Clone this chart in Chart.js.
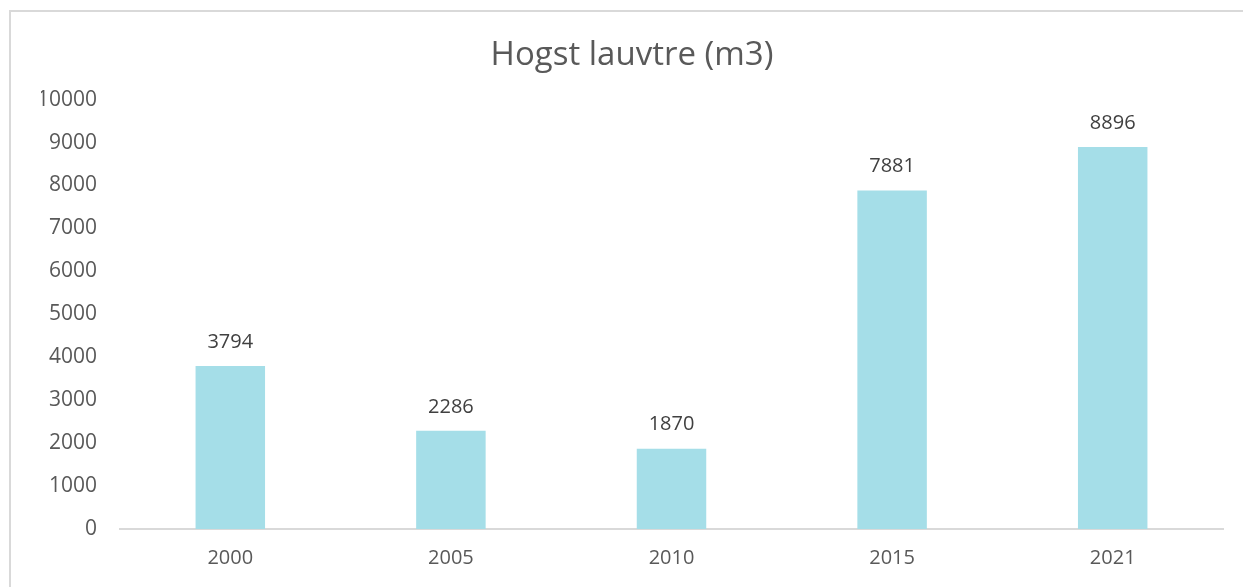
<!DOCTYPE html>
<html>
<head>
<meta charset="utf-8">
<script src="https://cdn.jsdelivr.net/npm/chart.js@4.4.1/dist/chart.umd.min.js"></script>
<style>
  html, body { margin: 0; padding: 0; background: #fff; overflow: hidden; }
  #frame { position: absolute; left: 9px; top: 10px; width: 1400px; height: 800px;
           border-left: 2px solid #d9d9d9; border-top: 2px solid #d9d9d9; }
  #wrap { position: absolute; left: 0; top: 0; width: 1243px; height: 587px; }
</style>
</head>
<body>
<div id="frame"></div>
<div id="wrap"><canvas id="c" width="1243" height="587"></canvas></div>
<script>
const categories = ['2000', '2005', '2010', '2015', '2021'];
const values = [3794, 2286, 1870, 7881, 8896];
const yTicks = [0, 1000, 2000, 3000, 4000, 5000, 6000, 7000, 8000, 9000, 10000];
const titleText = 'Hogst lauvtre (m3)';

const FONT = "'Open Sans', 'Noto Sans', sans-serif";
const TEXT = '#595959';

const labelPlugin = {
  id: 'barLabels',
  afterDatasetsDraw(chart) {
    const ctx = chart.ctx;
    const meta = chart.getDatasetMeta(0);
    ctx.save();
    ctx.font = '20px ' + FONT;
    ctx.fillStyle = '#404040';
    ctx.textAlign = 'center';
    ctx.textBaseline = 'middle';
    meta.data.forEach((bar, i) => {
      ctx.fillText(String(values[i]), bar.x, bar.y - 24);
    });
    ctx.restore();
  }
};

new Chart(document.getElementById('c'), {
  type: 'bar',
  data: {
    labels: categories,
    datasets: [{
      data: values,
      backgroundColor: '#a5dee8',
      borderWidth: 0,
      categoryPercentage: 1,
      barPercentage: 0.315
    }]
  },
  options: {
    responsive: false,
    animation: false,
    devicePixelRatio: 1,
    layout: { padding: { left: 41, right: 20, top: 0, bottom: 0 } },
    plugins: {
      legend: { display: false },
      tooltip: { enabled: false },
      title: {
        display: true,
        text: titleText,
        color: TEXT,
        font: { family: FONT, size: 33, weight: 'normal', lineHeight: 1.2 },
        padding: { top: 36, bottom: 24 }
      }
    },
    scales: {
      x: {
        grid: { display: false, drawTicks: false },
        border: { display: true, color: '#d9d9d9', width: 2 },
        ticks: { color: TEXT, font: { family: FONT, size: 20 }, padding: 17 },
        afterFit(scale) { scale.height = 58; }
      },
      y: {
        min: 0,
        max: 10000,
        grid: { display: false, drawTicks: false },
        border: { display: false },
        afterBuildTicks(scale) { scale.ticks = yTicks.map(v => ({ value: v })); },
        ticks: { color: TEXT, font: { family: FONT, size: 21 }, padding: 23,
                 callback: (v) => String(v) },
        afterFit(scale) { scale.width = 79; }
      }
    }
  },
  plugins: [labelPlugin]
});
</script>
</body>
</html>
